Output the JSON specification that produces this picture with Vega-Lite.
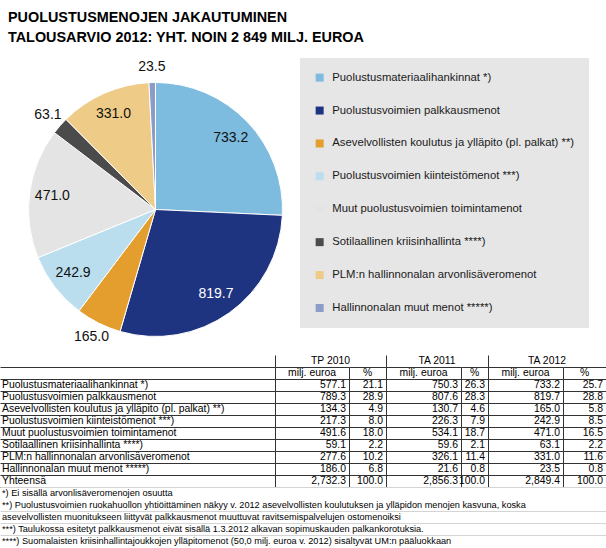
{
  "$schema": "https://vega.github.io/schema/vega-lite/v6.json",
  "padding": {"left": 0, "right": 0, "top": 9, "bottom": 0},
  "background": "white",
  "spacing": 0,
  "title": {
    "text": ["PUOLUSTUSMENOJEN JAKAUTUMINEN", "TALOUSARVIO 2012: YHT. NOIN 2 849 MILJ. EUROA"],
    "anchor": "start", "dx": 8, "offset": 13, "font": "Liberation Sans", "fontSize": 14.4,
    "fontWeight": "bold", "lineHeight": 20, "color": "#000"
  },
  "datasets": {
    "t": [
      {"i": 1, "cat": "Puolustusmateriaalihankinnat *)", "tp": 577.1, "tpp": 21.1, "ta11": 750.3, "ta11p": 26.3, "ta12": 733.2, "ta12p": 25.7},
      {"i": 2, "cat": "Puolustusvoimien palkkausmenot", "tp": 789.3, "tpp": 28.9, "ta11": 807.6, "ta11p": 28.3, "ta12": 819.7, "ta12p": 28.8},
      {"i": 3, "cat": "Asevelvollisten koulutus ja ylläpito (pl. palkat) **)", "tp": 134.3, "tpp": 4.9, "ta11": 130.7, "ta11p": 4.6, "ta12": 165.0, "ta12p": 5.8},
      {"i": 4, "cat": "Puolustusvoimien kiinteistömenot ***)", "tp": 217.3, "tpp": 8.0, "ta11": 226.3, "ta11p": 7.9, "ta12": 242.9, "ta12p": 8.5},
      {"i": 5, "cat": "Muut puolustusvoimien toimintamenot", "tp": 491.6, "tpp": 18.0, "ta11": 534.1, "ta11p": 18.7, "ta12": 471.0, "ta12p": 16.5},
      {"i": 6, "cat": "Sotilaallinen kriisinhallinta ****)", "tp": 59.1, "tpp": 2.2, "ta11": 59.6, "ta11p": 2.1, "ta12": 63.1, "ta12p": 2.2},
      {"i": 7, "cat": "PLM:n hallinnonalan arvonlisäveromenot", "tp": 277.6, "tpp": 10.2, "ta11": 326.1, "ta11p": 11.4, "ta12": 331.0, "ta12p": 11.6},
      {"i": 8, "cat": "Hallinnonalan muut menot *****)", "tp": 186.0, "tpp": 6.8, "ta11": 21.6, "ta11p": 0.8, "ta12": 23.5, "ta12p": 0.8},
      {"i": 9, "cat": "Yhteensä", "tp": 2732.3, "tpp": 100.0, "ta11": 2856.3, "ta11p": 100.0, "ta12": 2849.4, "ta12p": 100.0}
    ]
  },
  "vconcat": [
    {
      "width": 311, "height": 291,
      "data": {"name": "t"},
      "transform": [{"filter": "datum.cat !== 'Yhteensä'"}],
      "encoding": {
        "theta": {"field": "ta12", "type": "quantitative", "stack": true},
        "order": {"field": "i", "type": "quantitative"}
      },
      "layer": [
        {
          "mark": {"type": "arc", "radius": 127, "stroke": "#ffffff", "strokeWidth": 1},
          "encoding": {
            "color": {
              "field": "cat", "type": "nominal",
              "scale": {
                "domain": ["Puolustusmateriaalihankinnat *)", "Puolustusvoimien palkkausmenot", "Asevelvollisten koulutus ja ylläpito (pl. palkat) **)", "Puolustusvoimien kiinteistömenot ***)", "Muut puolustusvoimien toimintamenot", "Sotilaallinen kriisinhallinta ****)", "PLM:n hallinnonalan arvonlisäveromenot", "Hallinnonalan muut menot *****)"],
                "range": ["#7dbbdf", "#1f3481", "#e39e2e", "#badeee", "#e4e4e4", "#4b4b4b", "#eecb87", "#8b9cc8"]
              },
              "legend": {
                "orient": "none", "legendX": 300, "legendY": -6, "title": null,
                "fillColor": "#e6e6e6", "padding": 14, "rowPadding": 20.9,
                "symbolType": "square", "symbolSize": 64, "symbolStrokeWidth": 0,
                "labelFont": "Liberation Sans", "labelFontSize": 11.3, "labelLimit": 400,
                "labelOffset": 7, "labelColor": "#1a1a1a"
              }
            }
          }
        },
        {
          "mark": {"type": "text", "radius": 104, "fontSize": 14},
          "encoding": {
            "text": {"condition": {"test": "datum.ta12 >= 200", "field": "ta12", "type": "quantitative", "format": ".1f"}, "value": ""},
            "color": {"condition": {"test": "datum.cat === 'Puolustusvoimien palkkausmenot'", "value": "#ffffff"}, "value": "#111111"}
          }
        },
        {
          "mark": {"type": "text", "radius": 143, "fontSize": 14},
          "encoding": {
            "text": {"condition": {"test": "datum.ta12 < 200", "field": "ta12", "type": "quantitative", "format": ".1f"}, "value": ""},
            "color": {"value": "#111111"}
          }
        }
      ]
    },
    {
      "spacing": 0, "bounds": "flush", "align": "none",
      "hconcat": [
        {"width": 275, "height": 12, "data": {"values": [{"yr": ""}]}, "mark": "text", "encoding": {"text": {"field": "yr"}}},
        {"width": 111, "height": 12, "data": {"values": [{"yr": "TP 2010"}]}, "mark": "text",
         "encoding": {"y": {"field": "yr", "type": "nominal", "scale": {"type": "band", "paddingInner": 0, "paddingOuter": 0}, "axis": {"grid": false}},
                      "x": {"datum": 0.5, "type": "quantitative", "scale": {"domain": [0, 1]}, "axis": null},
                      "text": {"field": "yr"}}},
        {"width": 102, "height": 12, "data": {"values": [{"yr": "TA 2011"}]}, "mark": "text",
         "encoding": {"y": {"field": "yr", "type": "nominal", "scale": {"type": "band", "paddingInner": 0, "paddingOuter": 0}, "axis": {"grid": false}},
                      "x": {"datum": 0.5, "type": "quantitative", "scale": {"domain": [0, 1]}, "axis": null},
                      "text": {"field": "yr"}}},
        {"width": 118, "height": 12, "data": {"values": [{"yr": "TA 2012"}]}, "mark": "text",
         "encoding": {"y": {"field": "yr", "type": "nominal", "scale": {"type": "band", "paddingInner": 0, "paddingOuter": 0}, "axis": {"grid": false}},
                      "x": {"datum": 0.5, "type": "quantitative", "scale": {"domain": [0, 1]}, "axis": null},
                      "text": {"field": "yr"}}}
      ]
    },
    {
      "spacing": 0, "bounds": "flush", "align": "none",
      "hconcat": [
        {"width": 275, "height": 120, "data": {"name": "t"}, "mark": {"type": "text", "align": "left", "dx": 2},
         "encoding": {
           "y": {"field": "cat", "type": "nominal", "scale": {"type": "band", "paddingInner": 0, "paddingOuter": 0, "domain": ["hdr", "Puolustusmateriaalihankinnat *)", "Puolustusvoimien palkkausmenot", "Asevelvollisten koulutus ja ylläpito (pl. palkat) **)", "Puolustusvoimien kiinteistömenot ***)", "Muut puolustusvoimien toimintamenot", "Sotilaallinen kriisinhallinta ****)", "PLM:n hallinnonalan arvonlisäveromenot", "Hallinnonalan muut menot *****)", "Yhteensä"]}, "axis": {"domain": false}},
           "x": {"datum": 0, "type": "quantitative", "scale": {"domain": [0, 1]}, "axis": null},
           "text": {"field": "cat"}}},
        {"width": 74, "height": 120, "layer": [
          {"data": {"values": [{"h": "milj. euroa"}]}, "mark": "text",
           "encoding": {"y": {"datum": "hdr", "type": "nominal", "scale": {"type": "band", "paddingInner": 0, "paddingOuter": 0, "domain": ["hdr", "Puolustusmateriaalihankinnat *)", "Puolustusvoimien palkkausmenot", "Asevelvollisten koulutus ja ylläpito (pl. palkat) **)", "Puolustusvoimien kiinteistömenot ***)", "Muut puolustusvoimien toimintamenot", "Sotilaallinen kriisinhallinta ****)", "PLM:n hallinnonalan arvonlisäveromenot", "Hallinnonalan muut menot *****)", "Yhteensä"]}},
                        "x": {"datum": 0.5, "type": "quantitative", "scale": {"domain": [0, 1]}, "axis": null},
                        "text": {"field": "h"}}},
          {"data": {"name": "t"}, "mark": {"type": "text", "align": "right", "dx": -3},
           "encoding": {"y": {"field": "cat", "type": "nominal"},
                        "x": {"datum": 1, "type": "quantitative"},
                        "text": {"field": "tp", "type": "quantitative", "format": ",.1f"}}}
        ]},
        {"width": 37, "height": 120, "layer": [
          {"data": {"values": [{"h": "%"}]}, "mark": "text",
           "encoding": {"y": {"datum": "hdr", "type": "nominal", "scale": {"type": "band", "paddingInner": 0, "paddingOuter": 0, "domain": ["hdr", "Puolustusmateriaalihankinnat *)", "Puolustusvoimien palkkausmenot", "Asevelvollisten koulutus ja ylläpito (pl. palkat) **)", "Puolustusvoimien kiinteistömenot ***)", "Muut puolustusvoimien toimintamenot", "Sotilaallinen kriisinhallinta ****)", "PLM:n hallinnonalan arvonlisäveromenot", "Hallinnonalan muut menot *****)", "Yhteensä"]}},
                        "x": {"datum": 0.5, "type": "quantitative", "scale": {"domain": [0, 1]}, "axis": null},
                        "text": {"field": "h"}}},
          {"data": {"name": "t"}, "mark": {"type": "text", "align": "right", "dx": -3},
           "encoding": {"y": {"field": "cat", "type": "nominal"},
                        "x": {"datum": 1, "type": "quantitative"},
                        "text": {"field": "tpp", "type": "quantitative", "format": ".1f"}}}
        ]},
        {"width": 75, "height": 120, "layer": [
          {"data": {"values": [{"h": "milj. euroa"}]}, "mark": "text",
           "encoding": {"y": {"datum": "hdr", "type": "nominal", "scale": {"type": "band", "paddingInner": 0, "paddingOuter": 0, "domain": ["hdr", "Puolustusmateriaalihankinnat *)", "Puolustusvoimien palkkausmenot", "Asevelvollisten koulutus ja ylläpito (pl. palkat) **)", "Puolustusvoimien kiinteistömenot ***)", "Muut puolustusvoimien toimintamenot", "Sotilaallinen kriisinhallinta ****)", "PLM:n hallinnonalan arvonlisäveromenot", "Hallinnonalan muut menot *****)", "Yhteensä"]}},
                        "x": {"datum": 0.5, "type": "quantitative", "scale": {"domain": [0, 1]}, "axis": null},
                        "text": {"field": "h"}}},
          {"data": {"name": "t"}, "mark": {"type": "text", "align": "right", "dx": -3},
           "encoding": {"y": {"field": "cat", "type": "nominal"},
                        "x": {"datum": 1, "type": "quantitative"},
                        "text": {"field": "ta11", "type": "quantitative", "format": ",.1f"}}}
        ]},
        {"width": 27, "height": 120, "layer": [
          {"data": {"values": [{"h": "%"}]}, "mark": "text",
           "encoding": {"y": {"datum": "hdr", "type": "nominal", "scale": {"type": "band", "paddingInner": 0, "paddingOuter": 0, "domain": ["hdr", "Puolustusmateriaalihankinnat *)", "Puolustusvoimien palkkausmenot", "Asevelvollisten koulutus ja ylläpito (pl. palkat) **)", "Puolustusvoimien kiinteistömenot ***)", "Muut puolustusvoimien toimintamenot", "Sotilaallinen kriisinhallinta ****)", "PLM:n hallinnonalan arvonlisäveromenot", "Hallinnonalan muut menot *****)", "Yhteensä"]}},
                        "x": {"datum": 0.5, "type": "quantitative", "scale": {"domain": [0, 1]}, "axis": null},
                        "text": {"field": "h"}}},
          {"data": {"name": "t"}, "mark": {"type": "text", "align": "right", "dx": -3},
           "encoding": {"y": {"field": "cat", "type": "nominal"},
                        "x": {"datum": 1, "type": "quantitative"},
                        "text": {"field": "ta11p", "type": "quantitative", "format": ".1f"}}}
        ]},
        {"width": 75, "height": 120, "layer": [
          {"data": {"values": [{"h": "milj. euroa"}]}, "mark": "text",
           "encoding": {"y": {"datum": "hdr", "type": "nominal", "scale": {"type": "band", "paddingInner": 0, "paddingOuter": 0, "domain": ["hdr", "Puolustusmateriaalihankinnat *)", "Puolustusvoimien palkkausmenot", "Asevelvollisten koulutus ja ylläpito (pl. palkat) **)", "Puolustusvoimien kiinteistömenot ***)", "Muut puolustusvoimien toimintamenot", "Sotilaallinen kriisinhallinta ****)", "PLM:n hallinnonalan arvonlisäveromenot", "Hallinnonalan muut menot *****)", "Yhteensä"]}},
                        "x": {"datum": 0.5, "type": "quantitative", "scale": {"domain": [0, 1]}, "axis": null},
                        "text": {"field": "h"}}},
          {"data": {"name": "t"}, "mark": {"type": "text", "align": "right", "dx": -3},
           "encoding": {"y": {"field": "cat", "type": "nominal"},
                        "x": {"datum": 1, "type": "quantitative"},
                        "text": {"field": "ta12", "type": "quantitative", "format": ",.1f"}}}
        ]},
        {"width": 43, "height": 120, "layer": [
          {"data": {"values": [{"h": "%"}]}, "mark": "text",
           "encoding": {"y": {"datum": "hdr", "type": "nominal", "scale": {"type": "band", "paddingInner": 0, "paddingOuter": 0, "domain": ["hdr", "Puolustusmateriaalihankinnat *)", "Puolustusvoimien palkkausmenot", "Asevelvollisten koulutus ja ylläpito (pl. palkat) **)", "Puolustusvoimien kiinteistömenot ***)", "Muut puolustusvoimien toimintamenot", "Sotilaallinen kriisinhallinta ****)", "PLM:n hallinnonalan arvonlisäveromenot", "Hallinnonalan muut menot *****)", "Yhteensä"]}},
                        "x": {"datum": 0.5, "type": "quantitative", "scale": {"domain": [0, 1]}, "axis": null},
                        "text": {"field": "h"}}},
          {"data": {"name": "t"}, "mark": {"type": "text", "align": "right", "dx": -3},
           "encoding": {"y": {"field": "cat", "type": "nominal"},
                        "x": {"datum": 1, "type": "quantitative"},
                        "text": {"field": "ta12p", "type": "quantitative", "format": ".1f"}}}
        ]}
      ]
    },
    {
      "width": 606, "height": 60,
      "data": {"values": [
        {"k": "f1", "t": "*) Ei sisällä arvonlisäveromenojen osuutta"},
        {"k": "f2", "t": "**) Puolustusvoimien ruokahuollon yhtiöittäminen näkyy v. 2012 asevelvollisten koulutuksen ja ylläpidon menojen kasvuna, koska"},
        {"k": "f3", "t": "asevelvollisten muonitukseen liittyvät palkkausmenot muuttuvat ravitsemispalvelujen ostomenoiksi"},
        {"k": "f4", "t": "***) Taulukossa esitetyt palkkausmenot eivät sisällä 1.3.2012 alkavan sopimuskauden palkankorotuksia."},
        {"k": "f5", "t": "****) Suomalaisten kriisinhallintajoukkojen ylläpitomenot (50,0 milj. euroa v. 2012) sisältyvät UM:n pääluokkaan"}
      ]},
      "mark": {"type": "text", "align": "left", "dx": 2, "fontSize": 9.2},
      "encoding": {
        "y": {"field": "k", "type": "nominal", "scale": {"type": "band", "paddingInner": 0, "paddingOuter": 0},
              "axis": {"domain": false, "gridColor": "#d4d4d4", "gridOpacity": {"condition": {"test": "datum.value === 'f1'", "value": 0}, "value": 1}}},
        "x": {"datum": 0, "type": "quantitative", "scale": {"domain": [0, 1]}, "axis": null},
        "text": {"field": "t"}
      }
    }
  ],
  "config": {
    "view": {"stroke": null},
    "font": "Liberation Sans",
    "concat": {"spacing": 0},
    "text": {"font": "Liberation Sans", "fontSize": 10.4, "color": "#000000"},
    "axisY": {"title": null, "labels": false, "ticks": false, "domain": true, "domainColor": "#333333", "grid": true, "gridColor": "#333333", "tickBand": "extent", "minExtent": 0, "maxExtent": 0, "offset": 0}
  }
}
